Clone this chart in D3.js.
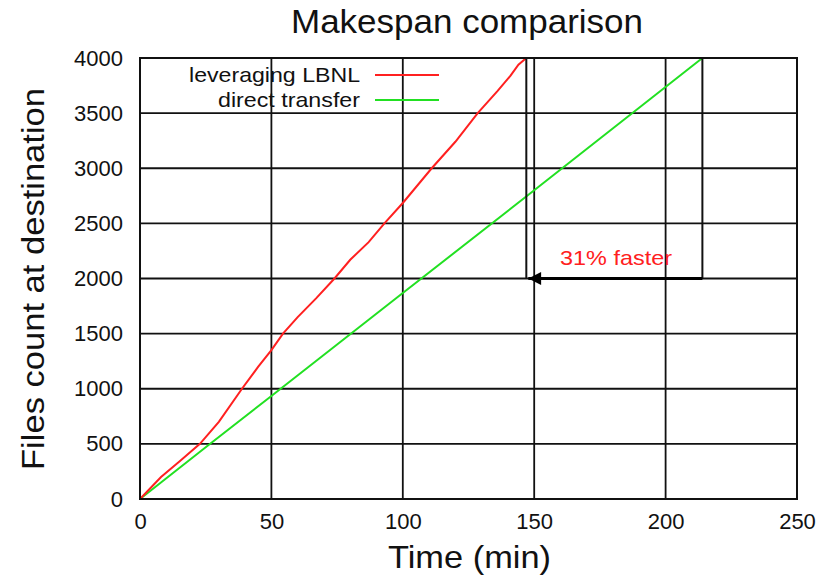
<!DOCTYPE html>
<html>
<head>
<meta charset="utf-8">
<script src="https://cdn.jsdelivr.net/npm/d3@7/dist/d3.min.js"></script>
<style>
  html, body { margin: 0; padding: 0; background: #fff; }
  svg { display: block; font-family: "Liberation Sans", Arial, sans-serif; }
</style>
</head>
<body>
<svg id="chart" width="824" height="577"></svg>
<script>
// ---- Data ----
const title = "Makespan comparison";
const xLabel = "Time (min)";
const yLabel = "Files count at destination";
const xTicks = [0, 50, 100, 150, 200, 250];
const yTicks = [0, 500, 1000, 1500, 2000, 2500, 3000, 3500, 4000];
const seriesNames = ["leveraging LBNL", "direct transfer"];

// leveraging LBNL (time in min, files)
const lbnlTime  = [0, 8, 15, 22.8, 30, 38.8, 45, 50, 54.4, 60, 67, 74, 80, 87, 93, 100, 111, 120, 128.5, 136, 141, 144, 147];
const lbnlFiles = [0, 200, 340, 500, 700, 1000, 1200, 1350, 1500, 1650, 1820, 2000, 2170, 2330, 2500, 2685, 3000, 3240, 3500, 3700, 3840, 3940, 4000];

// direct transfer
const directTime  = [0, 25, 50, 100, 150, 214];
const directFiles = [0, 470, 935, 1868, 2800, 4000];

// annotation
const annotText = "31% faster";
const annotY = 2000;
const annotFrom = 214;
const annotTo = 147;

// ---- Layout ----
const svg = d3.select("#chart");
const L = 140, R = 797, T = 58, B = 499;
const x = d3.scaleLinear().domain([0, 250]).range([L, R]);
const y = d3.scaleLinear().domain([0, 4000]).range([B, T]);

// grid
const g = svg.append("g");
g.selectAll("line.gx").data(xTicks.slice(1, -1)).join("line")
  .attr("x1", d => x(d)).attr("x2", d => x(d)).attr("y1", T).attr("y2", B)
  .attr("stroke", "#111").attr("stroke-width", 1.8);
g.selectAll("line.gy").data(yTicks.slice(1, -1)).join("line")
  .attr("y1", d => y(d)).attr("y2", d => y(d)).attr("x1", L).attr("x2", R)
  .attr("stroke", "#111").attr("stroke-width", 1.8);

// axes labels via d3 axes
const xAxis = d3.axisBottom(x).tickValues(xTicks).tickFormat(d3.format("d")).tickSize(0).tickPadding(14);
const yAxis = d3.axisLeft(y).tickValues(yTicks).tickFormat(d3.format("d")).tickSize(0).tickPadding(17);
const gx = svg.append("g").attr("transform", `translate(0,${B})`).call(xAxis);
const gy = svg.append("g").attr("transform", `translate(${L},0)`).call(yAxis);
[gx, gy].forEach(a => {
  a.select(".domain").remove();
  a.selectAll("text").attr("font-size", 22).attr("fill", "#111")
    .attr("font-family", "'Liberation Sans', Arial, sans-serif");
});

// lines
const line = d3.line().x(d => x(d[0])).y(d => y(d[1]));
const lbnl = lbnlTime.map((t, i) => [t, lbnlFiles[i]]);
const direct = directTime.map((t, i) => [t, directFiles[i]]);
svg.append("path").attr("d", line(direct)).attr("fill", "none")
  .attr("stroke", "#22e022").attr("stroke-width", 2);
svg.append("path").attr("d", line(lbnl)).attr("fill", "none")
  .attr("stroke", "#ff2020").attr("stroke-width", 2);

// annotation verticals
[annotTo, annotFrom].forEach(t => {
  svg.append("line").attr("x1", x(t)).attr("x2", x(t))
    .attr("y1", y(4000)).attr("y2", y(annotY))
    .attr("stroke", "#111").attr("stroke-width", 2);
});
// arrow
svg.append("defs").append("marker").attr("id", "ah")
  .attr("viewBox", "0 0 10 10").attr("refX", 10).attr("refY", 5)
  .attr("markerWidth", 6).attr("markerHeight", 4).attr("markerUnits", "strokeWidth")
  .attr("orient", "auto")
  .append("path").attr("d", "M0,0 L10,5 L0,10 z").attr("fill", "#000");
svg.append("line").attr("x1", x(annotFrom)).attr("x2", x(annotTo) + 2)
  .attr("y1", y(annotY)).attr("y2", y(annotY))
  .attr("stroke", "#000").attr("stroke-width", 3.2).attr("marker-end", "url(#ah)");
svg.append("text").attr("x", 560).attr("y", y(annotY) - 14)
  .attr("font-size", 21).attr("fill", "#ff2020")
  .attr("textLength", 112).attr("lengthAdjust", "spacingAndGlyphs")
  .text(annotText);

// frame
svg.append("rect").attr("x", L).attr("y", T).attr("width", R - L).attr("height", B - T)
  .attr("fill", "none").attr("stroke", "#111").attr("stroke-width", 2);

// legend
const legColors = ["#ff2020", "#22e022"];
const legWidths = [171, 142];
seriesNames.forEach((n, i) => {
  const yy = 75 + i * 25;
  svg.append("text").attr("x", 360 - legWidths[i]).attr("y", yy + 7)
    .attr("font-size", 21).attr("fill", "#111")
    .attr("textLength", legWidths[i]).attr("lengthAdjust", "spacingAndGlyphs").text(n);
  svg.append("line").attr("x1", 375).attr("x2", 439).attr("y1", yy).attr("y2", yy)
    .attr("stroke", legColors[i]).attr("stroke-width", 2);
});

// title & labels
svg.append("text").attr("x", 291).attr("y", 33)
  .attr("font-size", 33).attr("fill", "#111")
  .attr("textLength", 352).attr("lengthAdjust", "spacingAndGlyphs").text(title);
svg.append("text").attr("x", 388).attr("y", 568)
  .attr("font-size", 32).attr("fill", "#111")
  .attr("textLength", 163).attr("lengthAdjust", "spacingAndGlyphs").text(xLabel);
svg.append("text").attr("transform", "translate(44,470) rotate(-90)")
  .attr("font-size", 32).attr("fill", "#111")
  .attr("textLength", 382).attr("lengthAdjust", "spacingAndGlyphs").text(yLabel);
</script>
</body>
</html>
